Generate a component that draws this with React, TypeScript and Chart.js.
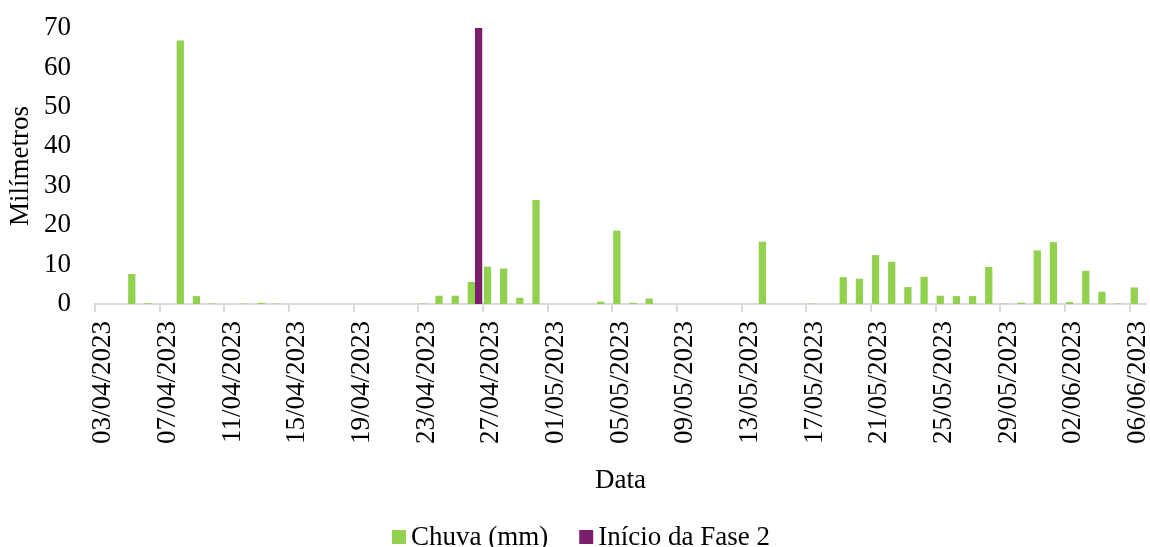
import React, { useEffect, useRef } from "react";
import { Chart, registerables } from "chart.js";

Chart.register(...registerables);

// Daily dates, 03/04/2023 to 06/06/2023
const dates: string[] = [
  "03/04/2023", "04/04/2023", "05/04/2023", "06/04/2023", "07/04/2023", "08/04/2023", "09/04/2023",
  "10/04/2023", "11/04/2023", "12/04/2023", "13/04/2023", "14/04/2023", "15/04/2023", "16/04/2023",
  "17/04/2023", "18/04/2023", "19/04/2023", "20/04/2023", "21/04/2023", "22/04/2023", "23/04/2023",
  "24/04/2023", "25/04/2023", "26/04/2023", "27/04/2023", "28/04/2023", "29/04/2023", "30/04/2023",
  "01/05/2023", "02/05/2023", "03/05/2023", "04/05/2023", "05/05/2023", "06/05/2023", "07/05/2023",
  "08/05/2023", "09/05/2023", "10/05/2023", "11/05/2023", "12/05/2023", "13/05/2023", "14/05/2023",
  "15/05/2023", "16/05/2023", "17/05/2023", "18/05/2023", "19/05/2023", "20/05/2023", "21/05/2023",
  "22/05/2023", "23/05/2023", "24/05/2023", "25/05/2023", "26/05/2023", "27/05/2023", "28/05/2023",
  "29/05/2023", "30/05/2023", "31/05/2023", "01/06/2023", "02/06/2023", "03/06/2023", "04/06/2023",
  "05/06/2023", "06/06/2023",
];

// Daily rainfall (mm)
const chuva: number[] = [
  0, 0, 7.6, 0.2, 0, 66.8, 2.0,
  0.1, 0, 0.1, 0.3, 0.1, 0, 0,
  0, 0, 0, 0, 0, 0, 0.1,
  2.1, 2.1, 5.6, 9.5, 9.0, 1.6, 26.4,
  0, 0, 0, 0.6, 18.6, 0.3, 1.4,
  0, 0, 0, 0, 0, 0, 15.8,
  0, 0, 0.1, 0, 6.8, 6.4, 12.4,
  10.7, 4.3, 6.9, 2.1, 2.0, 2.0, 9.4,
  0.1, 0.35, 13.6, 15.7, 0.5, 8.4, 3.1,
  0.1, 4.2,
];

// Marker for the start of phase 2
const inicioFase2Data = "26/04/2023";
const inicioFase2Valor = 70;

// Y axis range
const yMin = 0;
const yMax = 70;
const yStep = 10;

// Show one date label every four days
const labelEvery = 4;

const FONT = "'Liberation Serif', 'Times New Roman', serif";
const FONT_SIZE = 27;
const GREEN = "#92D050";
const PURPLE = "#7B1E6B";
const AXIS_GRAY = "#D9D9D9";

// Legend drawn below the axis title: square swatch + label
const bottomLegend = {
  id: "bottomLegend",
  afterDraw(chart: any, _args: any, opts: any) {
    const { ctx } = chart;
    ctx.save();
    ctx.font = `${opts.fontSize}px ${FONT}`;
    ctx.textBaseline = "middle";
    ctx.textAlign = "left";
    let x = opts.x;
    const y = opts.y;
    chart.data.datasets.forEach((ds: any) => {
      ctx.fillStyle = ds.backgroundColor;
      ctx.fillRect(x, y - opts.box / 2, opts.box, opts.box);
      x += opts.box + opts.gap;
      ctx.fillStyle = "#000";
      ctx.fillText(ds.label, x, y + 1);
      x += ctx.measureText(ds.label).width + opts.itemGap;
    });
    ctx.restore();
  },
};

export default function App() {
  const canvasRef = useRef<HTMLCanvasElement | null>(null);

  useEffect(() => {
    if (!canvasRef.current) return;
    const fase2 = dates.map((d) => (d === inicioFase2Data ? inicioFase2Valor : null));

    const chart = new Chart(canvasRef.current, {
      type: "bar",
      data: {
        labels: dates,
        datasets: [
          {
            label: "Chuva (mm)",
            data: chuva,
            backgroundColor: GREEN,
            categoryPercentage: 0.9,
            barPercentage: 1.0,
          },
          {
            label: "Início da Fase 2",
            data: fase2,
            backgroundColor: PURPLE,
            categoryPercentage: 0.9,
            barPercentage: 1.0,
          },
        ],
      },
      options: {
        animation: false,
        responsive: true,
        maintainAspectRatio: false,
        events: [],
        layout: { padding: { top: 28, right: 4, bottom: 50, left: 0 } },
        plugins: {
          legend: { display: false },
          tooltip: { enabled: false },
          bottomLegend: { x: 392, y: 537, box: 14, gap: 5, itemGap: 31, fontSize: FONT_SIZE },
        } as any,
        scales: {
          x: {
            offset: true,
            grid: {
              offset: true,
              drawOnChartArea: false,
              drawTicks: true,
              tickLength: 8,
              lineWidth: 2,
              color: (ctx: any) => (ctx.index % labelEvery === 0 ? AXIS_GRAY : "rgba(0,0,0,0)"),
            },
            border: { display: true, color: AXIS_GRAY, width: 2 },
            ticks: {
              autoSkip: false,
              minRotation: 90,
              maxRotation: 90,
              padding: 9,
              color: "#000",
              font: { family: FONT, size: FONT_SIZE },
              callback: (_v: any, i: number) => (i % labelEvery === 0 ? dates[i] : ""),
            },
            title: {
              display: true,
              text: "Data",
              color: "#000",
              font: { family: FONT, size: FONT_SIZE },
              padding: { top: 0, bottom: 0 },
            },
            afterFit: (scale: any) => {
              scale.height = 193;
              scale.paddingLeft = 0;
              scale.paddingRight = 0;
            },
          },
          y: {
            min: yMin,
            max: yMax,
            grid: { display: false, drawTicks: false },
            border: { display: false },
            ticks: {
              stepSize: yStep,
              padding: 24,
              color: "#000",
              font: { family: FONT, size: FONT_SIZE },
            },
            title: {
              display: true,
              text: "Milímetros",
              color: "#000",
              font: { family: FONT, size: FONT_SIZE },
              padding: { top: 5, bottom: 0 },
            },
            afterFit: (scale: any) => {
              scale.width = 95;
              scale.paddingTop = 0;
              scale.paddingBottom = 0;
            },
          },
        },
      },
      plugins: [bottomLegend],
    });

    return () => chart.destroy();
  }, []);

  return (
    <div style={{ position: "fixed", left: 0, top: 0, width: 1150, height: 547, background: "#fff" }}>
      <canvas ref={canvasRef} />
    </div>
  );
}
